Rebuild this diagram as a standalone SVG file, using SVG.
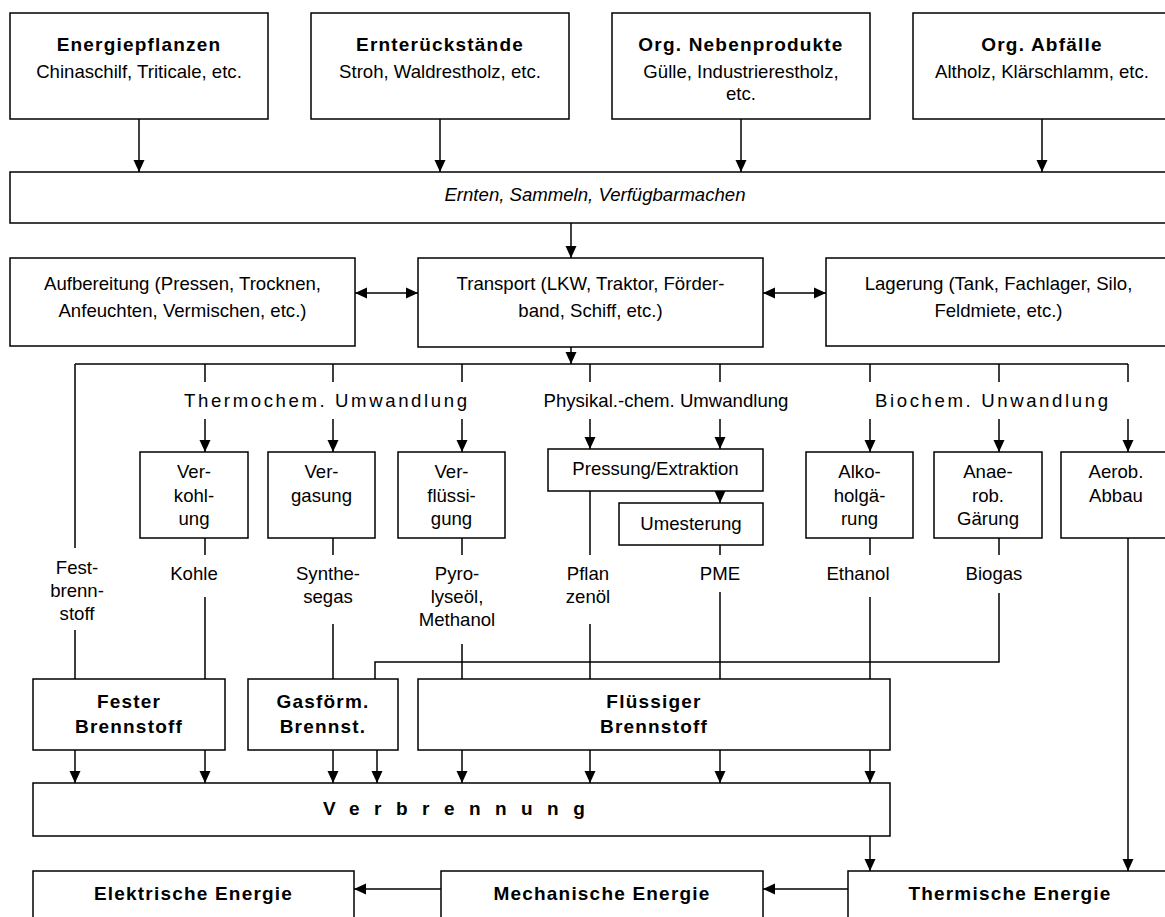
<svg xmlns="http://www.w3.org/2000/svg" width="1165" height="917" viewBox="0 0 1165 917">
<defs>
<marker id="ah" markerWidth="12" markerHeight="12" refX="12" refY="6" orient="auto-start-reverse" markerUnits="userSpaceOnUse">
<path d="M0,0.5 L12,6 L0,11.5 Z" fill="#000"/>
</marker>
</defs>
<style>
.box{fill:#fff;stroke:#000;stroke-width:1.5}
.t{font-family:"Liberation Sans",Arial,sans-serif;font-size:18.6px;text-anchor:middle;fill:#000}
.b{font-weight:bold;font-size:19px;letter-spacing:1.2px}
.i{font-style:italic}
.ln{stroke:#000;stroke-width:1.5;fill:none}
.ar{marker-end:url(#ah)}
.da{marker-start:url(#ah);marker-end:url(#ah)}
</style>
<rect width="1165" height="917" fill="#fff"/>

<g id="connectors">
<path class="ln ar" d="M139,119 V172"/>
<path class="ln ar" d="M440,119 V172"/>
<path class="ln ar" d="M741,119 V172"/>
<path class="ln ar" d="M1042,119 V172"/>
<path class="ln ar" d="M571,223 V258"/>
<path class="ln da" d="M355,293 H418"/>
<path class="ln da" d="M763,293 H826"/>
<path class="ln ar" d="M571,347 V364"/>
<path class="ln" d="M75,364 H1128"/>
<path class="ln" d="M205,364 V382 M333,364 V382 M462,364 V382 M590,364 V382 M720,364 V382 M870,364 V382 M999,364 V382 M1128,364 V382"/>
<path class="ln ar" d="M205,419 V452"/>
<path class="ln ar" d="M333,419 V452"/>
<path class="ln ar" d="M462,419 V452"/>
<path class="ln ar" d="M590,419 V449"/>
<path class="ln ar" d="M720,419 V449"/>
<path class="ln ar" d="M870,419 V452"/>
<path class="ln ar" d="M999,419 V452"/>
<path class="ln ar" d="M1128,419 V452"/>
<path class="ln ar" d="M720,491 V503"/>
<path class="ln" d="M75,364 V548 M75,630 V679"/>
<path class="ln" d="M205,538 V555 M205,597 V679"/>
<path class="ln" d="M333,538 V555 M333,624 V679"/>
<path class="ln" d="M462,538 V555 M462,644 V679"/>
<path class="ln" d="M590,491 V555 M590,624 V679"/>
<path class="ln" d="M720,545 V555 M720,592 V679"/>
<path class="ln" d="M870,538 V555 M870,597 V679"/>
<path class="ln" d="M999,538 V555 M999,593 V662 H375 V679"/>
<path class="ln ar" d="M1128,538 V871"/>
<path class="ln ar" d="M75,750 V783"/>
<path class="ln ar" d="M205,750 V783"/>
<path class="ln ar" d="M333,750 V783"/>
<path class="ln ar" d="M377,750 V783"/>
<path class="ln ar" d="M462,750 V783"/>
<path class="ln ar" d="M590,750 V783"/>
<path class="ln ar" d="M720,750 V783"/>
<path class="ln ar" d="M870,750 V783"/>
<path class="ln ar" d="M870,836 V871"/>
<path class="ln ar" d="M848,889 H763"/>
<path class="ln ar" d="M441,889 H354"/>
</g>

<g id="labels">
<text class="t" x="184" y="407" textLength="283" lengthAdjust="spacing" style="text-anchor:start">Thermochem. Umwandlung</text>
<text class="t" x="666" y="407">Physikal.-chem. Umwandlung</text>
<text class="t" x="875" y="407" textLength="233" lengthAdjust="spacing" style="text-anchor:start">Biochem. Unwandlung</text>
<text class="t" x="77" y="574">Fest-</text>
<text class="t" x="77" y="597">brenn-</text>
<text class="t" x="77" y="620">stoff</text>
<text class="t" x="194" y="580">Kohle</text>
<text class="t" x="328" y="580">Synthe-</text>
<text class="t" x="328" y="603">segas</text>
<text class="t" x="457" y="580">Pyro-</text>
<text class="t" x="457" y="603">lyseöl,</text>
<text class="t" x="457" y="626">Methanol</text>
<text class="t" x="588" y="580">Pflan</text>
<text class="t" x="588" y="603">zenöl</text>
<text class="t" x="720" y="580">PME</text>
<text class="t" x="858" y="580">Ethanol</text>
<text class="t" x="994" y="580">Biogas</text>
</g>

<g id="n_energiepflanzen">
<rect class="box" x="10" y="13" width="258" height="106"/>
<text class="t b" x="139" y="51">Energiepflanzen</text>
<text class="t" x="139" y="78">Chinaschilf, Triticale, etc.</text>
</g>
<g id="n_ernterueckstaende">
<rect class="box" x="311" y="13" width="258" height="106"/>
<text class="t b" x="440" y="51">Ernterückstände</text>
<text class="t" x="440" y="78">Stroh, Waldrestholz, etc.</text>
</g>
<g id="n_nebenprodukte">
<rect class="box" x="612" y="13" width="258" height="106"/>
<text class="t b" x="741" y="51">Org. Nebenprodukte</text>
<text class="t" x="741" y="78">Gülle, Industrierestholz,</text>
<text class="t" x="741" y="100">etc.</text>
</g>
<g id="n_abfaelle">
<rect class="box" x="913" y="13" width="258" height="106"/>
<text class="t b" x="1042" y="51">Org. Abfälle</text>
<text class="t" x="1042" y="78">Altholz, Klärschlamm, etc.</text>
</g>
<g id="n_ernten">
<rect class="box" x="10" y="172" width="1161" height="51"/>
<text class="t i" x="595" y="201">Ernten, Sammeln, Verfügbarmachen</text>
</g>
<g id="n_aufbereitung">
<rect class="box" x="10" y="258" width="345" height="88"/>
<text class="t" x="182.5" y="290">Aufbereitung (Pressen, Trocknen,</text>
<text class="t" x="182.5" y="317">Anfeuchten, Vermischen, etc.)</text>
</g>
<g id="n_transport">
<rect class="box" x="418" y="258" width="345" height="89"/>
<text class="t" x="590.5" y="290">Transport (LKW, Traktor, Förder-</text>
<text class="t" x="590.5" y="317">band, Schiff, etc.)</text>
</g>
<g id="n_lagerung">
<rect class="box" x="826" y="258" width="345" height="88"/>
<text class="t" x="998.5" y="290">Lagerung (Tank, Fachlager, Silo,</text>
<text class="t" x="998.5" y="317">Feldmiete, etc.)</text>
</g>
<g id="n_verkohlung">
<rect class="box" x="140" y="452" width="108" height="86"/>
<text class="t" x="194" y="478">Ver-</text>
<text class="t" x="194" y="502">kohl-</text>
<text class="t" x="194" y="525">ung</text>
</g>
<g id="n_vergasung">
<rect class="box" x="268" y="452" width="107" height="86"/>
<text class="t" x="321.5" y="478">Ver-</text>
<text class="t" x="321.5" y="502">gasung</text>
</g>
<g id="n_verfluessigung">
<rect class="box" x="398" y="452" width="107" height="86"/>
<text class="t" x="451.5" y="478">Ver-</text>
<text class="t" x="451.5" y="502">flüssi-</text>
<text class="t" x="451.5" y="525">gung</text>
</g>
<g id="n_pressung">
<rect class="box" x="548" y="449" width="215" height="42"/>
<text class="t" x="655.5" y="475">Pressung/Extraktion</text>
</g>
<g id="n_umesterung">
<rect class="box" x="619" y="503" width="144" height="42"/>
<text class="t" x="691" y="530">Umesterung</text>
</g>
<g id="n_alkoholgaerung">
<rect class="box" x="806" y="452" width="107" height="86"/>
<text class="t" x="859.5" y="478">Alko-</text>
<text class="t" x="859.5" y="502">holgä-</text>
<text class="t" x="859.5" y="525">rung</text>
</g>
<g id="n_anaerob">
<rect class="box" x="934" y="452" width="108" height="86"/>
<text class="t" x="988" y="478">Anae-</text>
<text class="t" x="988" y="502">rob.</text>
<text class="t" x="988" y="525">Gärung</text>
</g>
<g id="n_aerob">
<rect class="box" x="1061" y="452" width="110" height="86"/>
<text class="t" x="1116" y="478">Aerob.</text>
<text class="t" x="1116" y="502">Abbau</text>
</g>
<g id="n_fester">
<rect class="box" x="33" y="679" width="192" height="71"/>
<text class="t b" x="129" y="708">Fester</text>
<text class="t b" x="129" y="733">Brennstoff</text>
</g>
<g id="n_gasfoermig">
<rect class="box" x="248" y="679" width="150" height="71"/>
<text class="t b" x="323" y="708">Gasförm.</text>
<text class="t b" x="323" y="733">Brennst.</text>
</g>
<g id="n_fluessig">
<rect class="box" x="418" y="679" width="472" height="71"/>
<text class="t b" x="654" y="708">Flüssiger</text>
<text class="t b" x="654" y="733">Brennstoff</text>
</g>
<g id="n_verbrennung">
<rect class="box" x="33" y="783" width="857" height="53"/>
<text class="t b" x="323" y="815" textLength="263" lengthAdjust="spacing" style="text-anchor:start">Verbrennung</text>
</g>
<g id="n_elektrisch">
<rect class="box" x="33" y="871" width="321" height="60"/>
<text class="t b" x="193.5" y="900">Elektrische Energie</text>
</g>
<g id="n_mechanisch">
<rect class="box" x="441" y="871" width="322" height="60"/>
<text class="t b" x="602" y="900">Mechanische Energie</text>
</g>
<g id="n_thermisch">
<rect class="box" x="848" y="871" width="323" height="60"/>
<text class="t b" x="1010" y="900">Thermische Energie</text>
</g>
</svg>
